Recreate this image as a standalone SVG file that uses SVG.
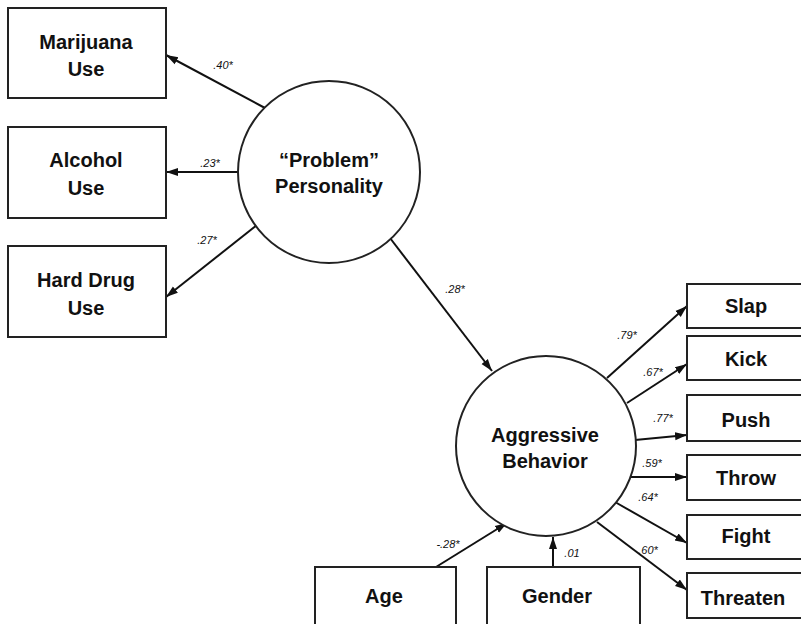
<svg xmlns="http://www.w3.org/2000/svg" width="801" height="624" viewBox="0 0 801 624">
<defs>
<marker id="ah" viewBox="0 0 12 10" refX="12" refY="5" markerWidth="12" markerHeight="10" markerUnits="userSpaceOnUse" orient="auto">
<path d="M0,1 L12,5 L0,9 Z" fill="#111"/>
</marker>
</defs>
<style>
.box{fill:#fff;stroke:#222;stroke-width:2}
.circ{fill:#fff;stroke:#222;stroke-width:2}
.t{font-family:"Liberation Sans",Arial,sans-serif;font-size:20px;font-weight:bold;fill:#111;text-anchor:middle}
.c{stroke:#111;stroke-width:2;fill:none;marker-end:url(#ah)}
.l{font-family:"Liberation Sans",Arial,sans-serif;font-size:11px;font-style:italic;fill:#111;text-anchor:middle}
</style>
<rect width="801" height="624" fill="#fff"/>
<g id="connectors">
<line class="c" x1="265" y1="108" x2="166" y2="55"/>
<line class="c" x1="238" y1="172" x2="166" y2="172"/>
<line class="c" x1="257" y1="225" x2="166" y2="297"/>
<line class="c" x1="390" y1="238" x2="492" y2="371"/>
<line class="c" x1="436" y1="567" x2="507" y2="523"/>
<line class="c" x1="553" y1="567" x2="553" y2="537"/>
<line class="c" x1="607" y1="378" x2="687" y2="306"/>
<line class="c" x1="627" y1="403" x2="687" y2="364"/>
<line class="c" x1="635" y1="440" x2="687" y2="435"/>
<line class="c" x1="630" y1="477" x2="687" y2="477"/>
<line class="c" x1="615" y1="502" x2="687" y2="543"/>
<line class="c" x1="597" y1="522" x2="687" y2="590"/>
<text class="l" x="223" y="69">.40*</text>
<text class="l" x="210" y="167">.23*</text>
<text class="l" x="207" y="244">.27*</text>
<text class="l" x="455" y="293">.28*</text>
<text class="l" x="448" y="548">-.28*</text>
<text class="l" x="572" y="557">.01</text>
<text class="l" x="627" y="339">.79*</text>
<text class="l" x="653" y="376">.67*</text>
<text class="l" x="663" y="422">.77*</text>
<text class="l" x="652" y="467">.59*</text>
<text class="l" x="648" y="501">.64*</text>
<text class="l" x="648" y="554">.60*</text>
</g>
<g id="marijuana"><rect class="box" x="8" y="8" width="158" height="90"/><text class="t" x="86" y="49">Marijuana</text><text class="t" x="86" y="76">Use</text></g>
<g id="alcohol"><rect class="box" x="8" y="127" width="158" height="91"/><text class="t" x="86" y="167">Alcohol</text><text class="t" x="86" y="195">Use</text></g>
<g id="harddrug"><rect class="box" x="8" y="246" width="158" height="91"/><text class="t" x="86" y="287">Hard Drug</text><text class="t" x="86" y="315">Use</text></g>
<g id="problem"><circle class="circ" cx="329" cy="172" r="91"/><text class="t" x="329" y="167">“Problem”</text><text class="t" x="329" y="193">Personality</text></g>
<g id="aggressive"><circle class="circ" cx="546" cy="446" r="90"/><text class="t" x="545" y="442">Aggressive</text><text class="t" x="545" y="468">Behavior</text></g>
<g id="slap"><rect class="box" x="687" y="284" width="120" height="44"/><text class="t" x="746" y="313">Slap</text></g>
<g id="kick"><rect class="box" x="687" y="336" width="120" height="44"/><text class="t" x="746" y="366">Kick</text></g>
<g id="push"><rect class="box" x="687" y="395" width="120" height="46"/><text class="t" x="746" y="427">Push</text></g>
<g id="throw"><rect class="box" x="687" y="455" width="120" height="45"/><text class="t" x="746" y="485">Throw</text></g>
<g id="fight"><rect class="box" x="687" y="515" width="120" height="44"/><text class="t" x="746" y="543">Fight</text></g>
<g id="threaten"><rect class="box" x="687" y="573" width="120" height="45"/><text class="t" x="743" y="605">Threaten</text></g>
<g id="age"><rect class="box" x="315" y="567" width="141" height="70"/><text class="t" x="384" y="603">Age</text></g>
<g id="gender"><rect class="box" x="487" y="567" width="153" height="70"/><text class="t" x="557" y="603">Gender</text></g>
</svg>
